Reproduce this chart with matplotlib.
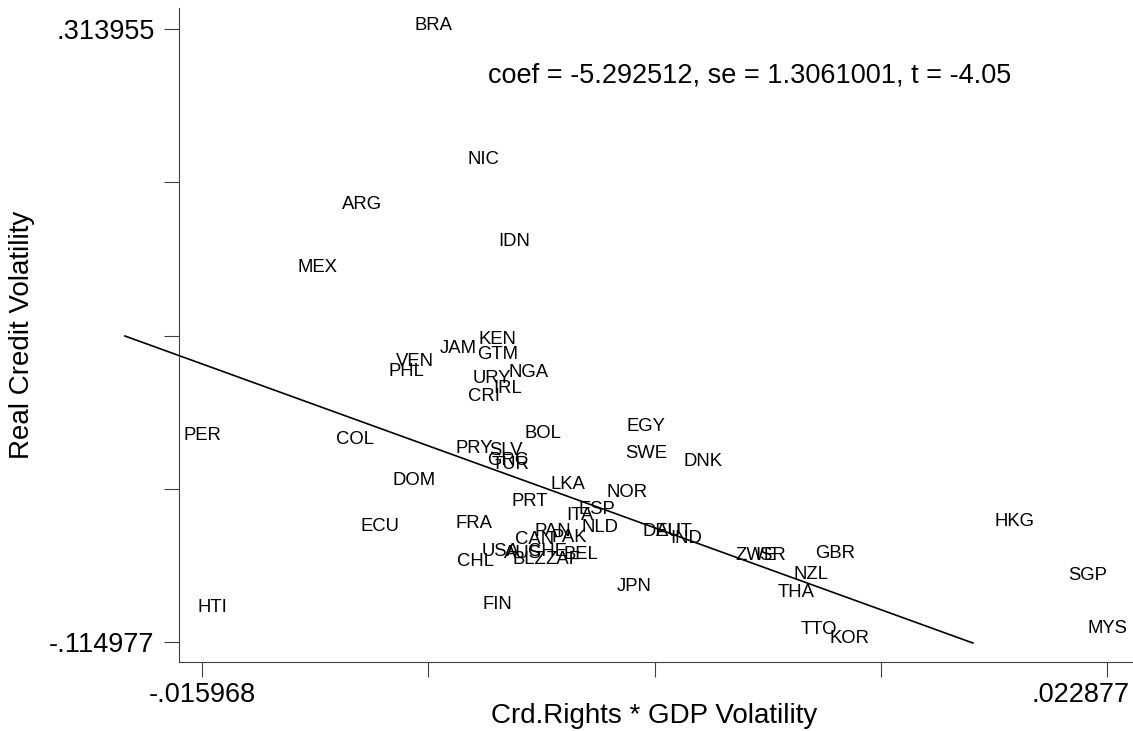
import matplotlib
matplotlib.use("Agg")
import matplotlib.pyplot as plt
from matplotlib.transforms import ScaledTranslation

plt.rcParams['font.family'] = ['Liberation Sans', 'DejaVu Sans']

countries = ['BRA', 'NIC', 'ARG', 'IDN', 'MEX', 'KEN', 'JAM', 'GTM', 'VEN', 'PHL',
             'NGA', 'URY', 'IRL', 'CRI', 'PER', 'BOL', 'EGY', 'COL', 'PRY', 'SLV',
             'SWE', 'DNK', 'GRC', 'TUR', 'DOM', 'LKA', 'NOR', 'PRT', 'ESP', 'ITA',
             'FRA', 'ECU', 'NLD', 'PAN', 'PAK', 'CAN', 'DEU', 'AUT', 'IND', 'USA',
             'AUS', 'CHE', 'BEL', 'BLZ', 'ZAF', 'CHL', 'JPN', 'FIN', 'HTI', 'ZWE',
             'ISR', 'GBR', 'NZL', 'THA', 'TTO', 'KOR', 'HKG', 'SGP', 'MYS']

x_vals = [-0.00604, -0.003893, -0.009093, -0.002561, -0.011026, -0.003292, -0.004968,
          -0.003292, -0.006815, -0.007202, -0.001960, -0.003507, -0.002862, -0.003850,
          -0.015968, -0.001315, 0.003068, -0.009394, -0.004280, -0.002905, 0.003111,
          0.005517, -0.002862, -0.002733, -0.006858, -0.000241, 0.002294, -0.001917,
          0.000962, 0.000275, -0.004280, -0.008319, 0.001134, -0.000928, -0.000198,
          -0.001702, 0.003755, 0.004314, 0.004829, -0.003163, -0.002175, -0.001143,
          0.000275, -0.001917, -0.000499, -0.004237, 0.002595, -0.003292, -0.015538,
          0.007794, 0.008439, 0.011189, 0.010158, 0.009513, 0.010502, 0.011834,
          0.018924, 0.022060, 0.022877]

y_vals = [0.313955, 0.22019, 0.18871, 0.16282, 0.14462, 0.09424, 0.08795, 0.08375,
          0.07885, 0.07185, 0.07115, 0.06695, 0.05996, 0.05436, 0.02707, 0.02847,
          0.03337, 0.02427, 0.01797, 0.01657, 0.01448, 0.00888, 0.00958, 0.00678,
          -0.00442, -0.00722, -0.01281, -0.01911, -0.02471, -0.02891, -0.03451,
          -0.03661, -0.03731, -0.04010, -0.04430, -0.04570, -0.04010, -0.04010,
          -0.04500, -0.05410, -0.05550, -0.05410, -0.05620, -0.05970, -0.05970,
          -0.06110, -0.07859, -0.09118, -0.09328, -0.05690, -0.05690, -0.05550,
          -0.07019, -0.08279, -0.10868, -0.114977, -0.03311, -0.07089, -0.10798]

# fitted line end points (as drawn)
fit_x = [-0.019277, 0.017119]
fit_y = [0.09914, -0.11567]

x_ticks = [-0.015968, -0.006257, 0.003455, 0.013166, 0.022877]
x_ticklabels = ['-.015968', '', '', '', '.022877']
y_ticks = [-0.114977, -0.007744, 0.099489, 0.206722, 0.313955]
y_ticklabels = ['-.114977', '', '', '', '.313955']

note = 'coef = -5.292512, se = 1.3061001, t = -4.05'
xlabel = 'Crd.Rights * GDP Volatility'
ylabel = 'Real Credit Volatility'

fig = plt.figure(figsize=(11.33, 7.31), dpi=100)
ax = fig.add_axes([179 / 1133, 1 - 662 / 731, (1133 - 179) / 1133, (662 - 8) / 731])

ax.set_xlim(-0.016956, 0.023994)
ax.set_ylim(-0.128971, 0.328649)

for lab, xv, yv in zip(countries, x_vals, y_vals):
    ax.annotate(lab, (xv, yv), xytext=(0, -1), textcoords='offset points',
                ha='center', va='baseline', fontsize=13.3, color='black')

ax.plot(fit_x, fit_y, color='black', lw=1.2, clip_on=False)

ax.set_xticks(x_ticks)
ax.set_xticklabels(x_ticklabels)
ax.set_yticks(y_ticks)
ax.set_yticklabels(y_ticklabels)
ax.tick_params(axis='both', direction='out', length=10.5, width=0.8, color='#404040',
               labelsize=19.5)
ax.tick_params(axis='x', pad=4)
ax.tick_params(axis='y', pad=7)

# keep the last x tick label inside the canvas, as in the reference
last = ax.get_xticklabels()[-1]
last.set_horizontalalignment('right')
last.set_transform(last.get_transform() + ScaledTranslation(0.23, 0, fig.dpi_scale_trans))

for s in ['top', 'right']:
    ax.spines[s].set_visible(False)
for s in ['left', 'bottom']:
    ax.spines[s].set_color('#404040')
    ax.spines[s].set_linewidth(0.8)

fig.text(488 / 1133, 1 - 75 / 731, note, ha='left', va='center', fontsize=19.5)
fig.text(654 / 1133, 1 - 716 / 731, xlabel, ha='center', va='center', fontsize=20)
fig.text(22 / 1133, 1 - 335 / 731, ylabel, ha='center', va='center', fontsize=20,
         rotation=90)

fig.savefig('out.png', dpi=100)
